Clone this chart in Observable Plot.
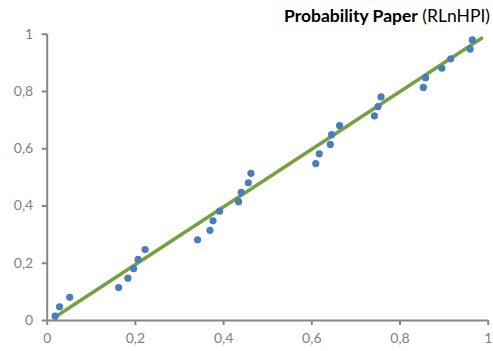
<!DOCTYPE html>
<html>
<head>
<meta charset="utf-8">
<script src="https://cdn.jsdelivr.net/npm/d3@7"></script>
<script src="https://cdn.jsdelivr.net/npm/@observablehq/plot@0.6"></script>
<style>
  html, body { margin: 0; padding: 0; background: #fff; }
  #wrap { position: relative; width: 493px; height: 351px; font-family: Lato, "Open Sans", sans-serif; }
  #title { position: absolute; right: 3px; top: 5px; font-size: 17.5px; color: #000; white-space: nowrap; }
  #title b { font-weight: 700; }
</style>
</head>
<body>
<div id="wrap">
  <div id="title"><b>Probability Paper</b> (RLnHPI)</div>
</div>
<script>
// Empirical probabilities of the sample (x) against plotting positions (y)
const sampleX = [0.018, 0.028, 0.051, 0.162, 0.183, 0.196, 0.206, 0.222,
                 0.341, 0.369, 0.376, 0.391, 0.434, 0.440, 0.456, 0.462,
                 0.609, 0.617, 0.642, 0.645, 0.663, 0.742, 0.750, 0.757,
                 0.853, 0.858, 0.895, 0.915, 0.959, 0.964];
const sampleY = [0.015, 0.048, 0.081, 0.115, 0.148, 0.181, 0.214, 0.248,
                 0.282, 0.315, 0.348, 0.382, 0.415, 0.448, 0.481, 0.514,
                 0.548, 0.582, 0.615, 0.649, 0.681, 0.715, 0.747, 0.781,
                 0.814, 0.848, 0.881, 0.914, 0.948, 0.980];
// Fitted reference line endpoints
const fitX = [0.018, 0.985];
const fitY = [0.012, 0.986];
const tickValues = [0, 0.2, 0.4, 0.6, 0.8, 1];

const points = sampleX.map((x, i) => ({x, y: sampleY[i]}));
const fit = fitX.map((x, i) => ({x, y: fitY[i]}));
const fmt = d => String(d).replace(".", ",");
const axisColor = "#868686";

const chart = Plot.plot({
  width: 493,
  height: 351,
  marginLeft: 46.7,
  marginRight: 5.3,
  marginTop: 33.7,
  marginBottom: 31,
  style: { fontFamily: "Lato, 'Open Sans', sans-serif", fontSize: "14px", color: "#7f7f7f", background: "transparent" },
  x: { domain: [0, 1] },
  y: { domain: [0, 1] },
  marks: [
    Plot.axisX({ ticks: tickValues, tickFormat: fmt, tickSize: 5, tickPadding: 8, stroke: axisColor, strokeWidth: 2, fill: "#7f7f7f", label: null }),
    Plot.axisY({ ticks: tickValues, tickFormat: fmt, tickSize: 5, tickPadding: 9, stroke: axisColor, strokeWidth: 2, fill: "#7f7f7f", label: null }),
    Plot.ruleY([0], { stroke: axisColor, strokeWidth: 2 }),
    Plot.ruleX([0], { stroke: axisColor, strokeWidth: 2 }),
    Plot.line(fit, { x: "x", y: "y", stroke: "#77a043", strokeWidth: 3.5 }),
    Plot.dot(points, { x: "x", y: "y", r: 3.6, fill: "#4a7ebb", stroke: "none" })
  ]
});
chart.style.position = "absolute";
chart.style.left = "0";
chart.style.top = "0";
const wrap = document.getElementById("wrap");
wrap.insertBefore(chart, wrap.firstChild);
</script>
</body>
</html>
